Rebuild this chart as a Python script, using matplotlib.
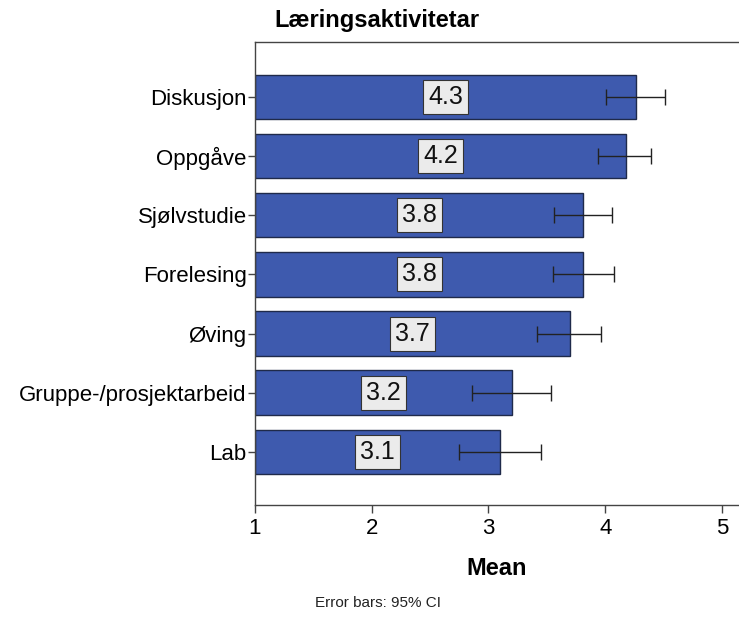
import matplotlib.pyplot as plt
import numpy as np

plt.rcParams["font.family"] = ["Liberation Sans", "DejaVu Sans"]

CATEGORIES = ["Diskusjon", "Oppgåve", "Sjølvstudie", "Forelesing", "Øving",
              "Gruppe-/prosjektarbeid", "Lab"]
MEANS = [4.268, 4.176, 3.814, 3.814, 3.697, 3.198, 3.098]
CI_LOW = [4.011, 3.940, 3.560, 3.551, 3.417, 2.855, 2.747]
CI_HIGH = [4.510, 4.396, 4.059, 4.074, 3.965, 3.532, 3.449]

BAR_COLOR = "#3e5aae"
BASE = 1.0

fig = plt.figure(figsize=(7.39, 6.17), dpi=100)
ax = fig.add_axes([0.345, 0.1815, 0.655, 0.7505])

y = np.arange(len(CATEGORIES))
means = np.array(MEANS)
lo = means - np.array(CI_LOW)
hi = np.array(CI_HIGH) - means

ax.barh(y, means - BASE, left=BASE, height=0.75, color=BAR_COLOR,
        edgecolor="#1f2a4a", linewidth=1.0, zorder=2)
ax.errorbar(means, y, xerr=[lo, hi], fmt="none", ecolor="#222222",
            elinewidth=1.0, capsize=6, capthick=1.0, zorder=3)

for yi, m in zip(y, MEANS):
    ax.text((BASE + m) / 2, yi, f"{m:.1f}", ha="center", va="center",
            fontsize=18, color="#111111", zorder=4,
            bbox=dict(boxstyle="square,pad=0.2", facecolor="#ebebeb",
                      edgecolor="#333333", linewidth=0.8))

ax.set_xlim(1, 5.146)
ax.set_ylim(len(CATEGORIES) - 1 + 0.9, -0.93)
ax.set_xticks([1, 2, 3, 4, 5])
ax.set_yticks(y)
ax.set_yticklabels(CATEGORIES)
ax.tick_params(axis="y", labelsize=16, length=5, width=1, color="#444444", pad=1)
ax.tick_params(axis="x", labelsize=16, length=6, width=1, color="#444444", pad=3)

for side in ["top", "bottom", "left"]:
    ax.spines[side].set_color("#444444")
    ax.spines[side].set_linewidth(1.0)
ax.spines["right"].set_visible(False)

ax.set_xlabel("Mean", fontsize=17, fontweight="bold", labelpad=13)
fig.text(274 / 739, 1 - 20 / 617, "Læringsaktivitetar", fontsize=17,
         fontweight="bold", ha="left", va="center")
fig.text(315 / 739, 1 - 603 / 617, "Error bars: 95% CI", fontsize=11,
         ha="left", va="center", color="#222222")

fig.savefig("out.png", dpi=100)
